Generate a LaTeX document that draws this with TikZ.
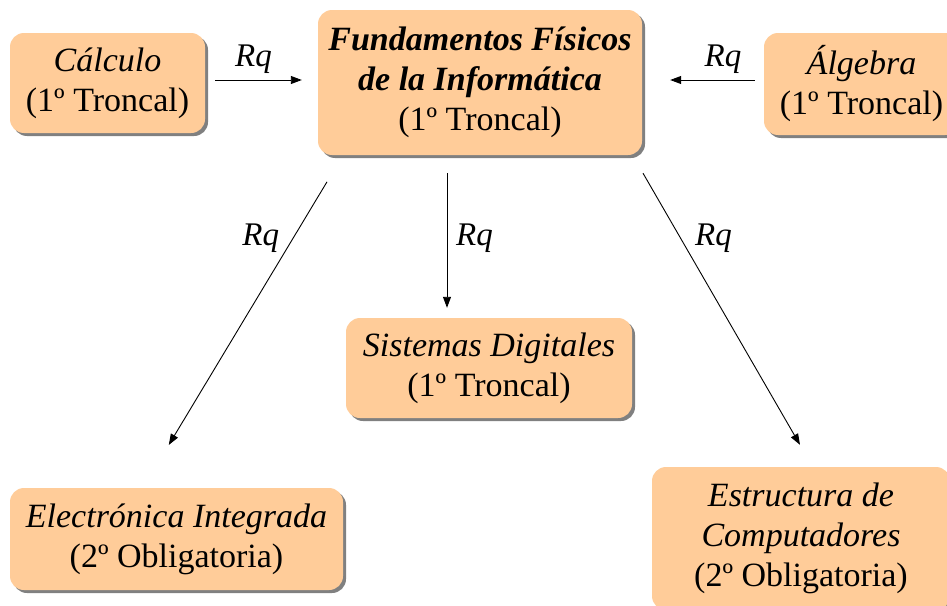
\documentclass[tikz,border=0pt]{standalone}
\usepackage{fontspec}
\setmainfont{Liberation Serif}
\usetikzlibrary{shadows,arrows.meta}
\definecolor{peach}{RGB}{255,204,153}
\begin{document}
\begin{tikzpicture}[x=1pt,y=-1pt,
  box/.style={fill=peach, rounded corners=14pt, align=center, inner sep=0pt,
    drop shadow={shadow xshift=3pt,shadow yshift=-3pt,fill=black!50,opacity=1},
    font=\fontsize{34}{40}\selectfont},
  conn/.style={line width=0.9pt, -{Triangle[length=11pt,width=8pt]}},
  lbl/.style={font=\fontsize{33}{38}\selectfont\itshape, inner sep=0pt}]
\useasboundingbox (0,0) rectangle (947,605);
\clip (0,0) rectangle (947,605);

\node[box, minimum width=195pt, minimum height=100pt] (calc) at (107.5,83)
  {\textit{Cálculo}\\(1º Troncal)};
\node[box, minimum width=324pt, minimum height=145pt] (fund) at (480,82.5)
  {\textbf{\textit{Fundamentos Físicos}}\\\textbf{\textit{de la Informática}}\\(1º Troncal)};
\node[box, minimum width=195pt, minimum height=102pt] (alg) at (861.5,84)
  {\textit{Álgebra}\\(1º Troncal)};
\node[box, minimum width=286pt, minimum height=100pt] (sist) at (489,368)
  {\textit{Sistemas Digitales}\\(1º Troncal)};
\node[box, minimum width=333pt, minimum height=102pt] (elec) at (176.5,539)
  {\textit{Electrónica Integrada}\\(2º Obligatoria)};
\node[box, minimum width=298pt, minimum height=143pt] (estr) at (801,538.5)
  {\textit{Estructura de}\\\textit{Computadores}\\(2º Obligatoria)};

\draw[conn, shorten <=10pt, shorten >=16pt] ([yshift=3pt]calc.east) -- ([yshift=3pt]calc.east -| fund.west)
  node[lbl, midway, xshift=-8pt, yshift=21pt] {Rq};
\draw[conn, shorten <=9pt, shorten >=28pt] ([yshift=4pt]alg.west) -- ([yshift=4pt]alg.west -| fund.east)
  node[lbl, midway, xshift=20pt, yshift=21pt] {Rq};
\draw[conn, shorten <=18pt, shorten >=10pt] ([xshift=-33pt]fund.south) -- ([xshift=-33pt]fund.south |- sist.north)
  node[lbl, midway, xshift=27.5pt, yshift=-1.5pt] {Rq};
\draw[conn, shorten <=31pt, shorten >=50pt] ([xshift=-137pt]fund.south) -- ([xshift=-33.5pt]elec.north)
  node[lbl, pos=0.249, xshift=-32.5pt] {Rq};
\draw[conn, shorten <=20.8pt, shorten >=25.4pt] ([xshift=152.6pt]fund.south) -- ([xshift=11.7pt]estr.north)
  node[lbl, pos=0.266, xshift=33pt] {Rq};
\end{tikzpicture}
\end{document}
